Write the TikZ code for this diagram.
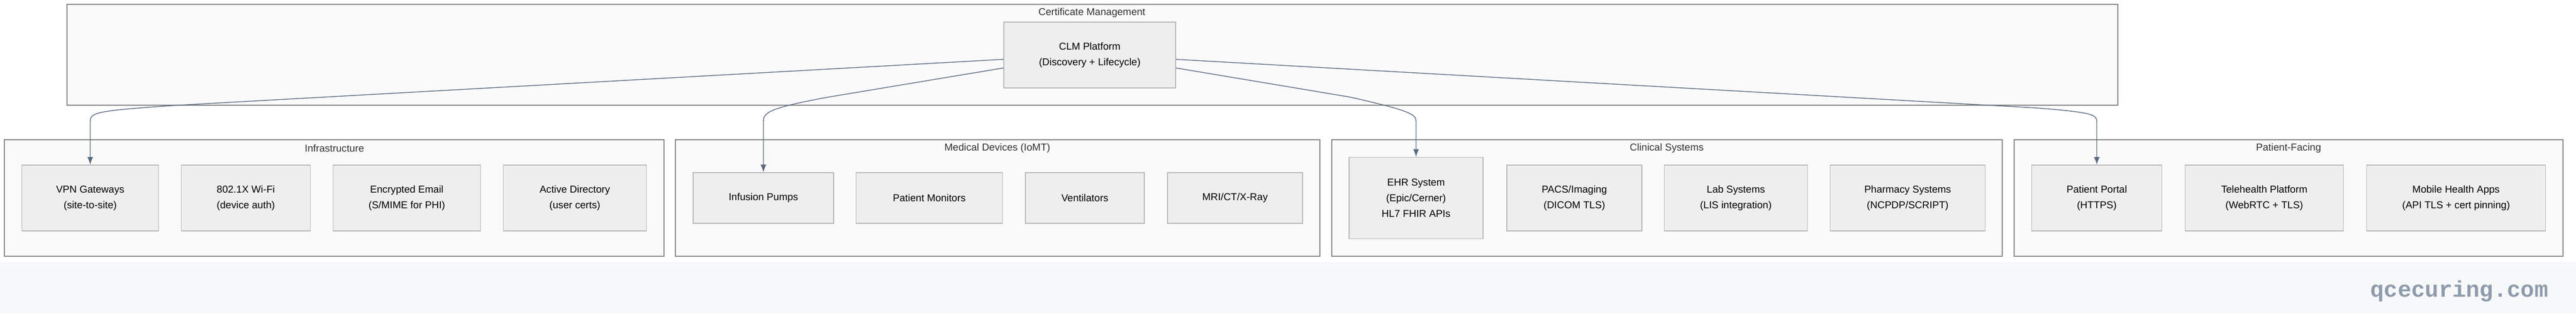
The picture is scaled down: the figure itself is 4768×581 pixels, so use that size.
\documentclass[tikz,border=0pt]{standalone}
\usepackage{fontspec}
\setmainfont{Liberation Sans}
\setmonofont{Liberation Mono}
\usetikzlibrary{calc}
\definecolor{GroupFill}{HTML}{FAFAFA}
\definecolor{GroupLine}{HTML}{888888}
\definecolor{NodeFill}{HTML}{EEEEEE}
\definecolor{NodeLine}{HTML}{B8B8B8}
\definecolor{EdgeColor}{HTML}{5A6A80}
\definecolor{BandColor}{HTML}{F7F8FA}
\definecolor{MarkColor}{HTML}{8E9BAB}
\tikzstyle{clm-base}=[rectangle,
                      draw=NodeLine,
                      fill=NodeFill,
                      text centered,
                      align=center,
                      font=\fontsize{5.3}{8.2}\selectfont,
                     ]
\tikzstyle{system}=[clm-base, minimum height=1.22cm]
\tikzstyle{device}=[clm-base, minimum height=0.94cm]
\tikzstyle{group}=[draw=GroupLine, fill=GroupFill]
\tikzstyle{group-title}=[font=\fontsize{5.3}{7}\selectfont, text=black!80]
\tikzstyle{link}=[EdgeColor, -latex]

\begin{document}
\begin{tikzpicture}[x=0.01cm, y=-0.01cm]
    \useasboundingbox (0,0) rectangle (4768,581);
    % Background
    % --------------------------------------------------------------------------
    \fill[BandColor] (0,485) rectangle (4768,581);
    \node at (4552, 540) (mark) [font=\ttfamily\bfseries\fontsize{12}{12}\selectfont, text=MarkColor] {qcecuring.com};

    % Groups
    % --------------------------------------------------------------------------
    \draw[group] ( 124,   8) rectangle (3920, 195);
    \draw[group] (   8, 259) rectangle (1229, 475);
    \draw[group] (1250, 259) rectangle (2443, 475);
    \draw[group] (2465, 259) rectangle (3706, 475);
    \draw[group] (3728, 259) rectangle (4744, 475);

    \node at (2021,  24) (cert_text)   [group-title] {Certificate Management};
    \node at ( 619, 275) (infra_text)  [group-title] {Infrastructure};
    \node at (1846, 275) (iomt_text)   [group-title] {Medical Devices (IoMT)};
    \node at (3085, 275) (clin_text)   [group-title] {Clinical Systems};
    \node at (4236, 275) (patient_text)[group-title] {Patient-Facing};

    % Nodes
    % --------------------------------------------------------------------------
    \node at (2017, 102) (clm) [system, minimum width=3.18cm] {CLM Platform\\(Discovery + Lifecycle)};

    \node at ( 167, 367) (vpn)   [system, minimum width=2.53cm] {VPN Gateways\\(site-to-site)};
    \node at ( 455, 367) (wifi)  [system, minimum width=2.39cm] {802.1X Wi-Fi\\(device auth)};
    \node at ( 753, 367) (email) [system, minimum width=2.73cm] {Encrypted Email\\(S/MIME for PHI)};
    \node at (1064, 367) (ad)    [system, minimum width=2.65cm] {Active Directory\\(user certs)};

    \node at (1413, 367) (pumps)    [device, minimum width=2.60cm] {Infusion Pumps};
    \node at (1720, 367) (monitors) [device, minimum width=2.71cm] {Patient Monitors};
    \node at (2008, 367) (vents)    [device, minimum width=2.20cm] {Ventilators};
    \node at (2286, 367) (imaging)  [device, minimum width=2.50cm] {MRI/CT/X-Ray};

    \node at (2621, 367) (ehr)      [system, minimum width=2.48cm, minimum height=1.51cm] {EHR System\\(Epic/Cerner)\\HL7 FHIR APIs};
    \node at (2914, 367) (pacs)     [system, minimum width=2.50cm] {PACS/Imaging\\(DICOM TLS)};
    \node at (3213, 367) (lab)      [system, minimum width=2.65cm] {Lab Systems\\(LIS integration)};
    \node at (3531, 367) (pharmacy) [system, minimum width=2.87cm] {Pharmacy Systems\\(NCPDP/SCRIPT)};

    \node at (3881, 367) (portal)   [system, minimum width=2.41cm] {Patient Portal\\(HTTPS)};
    \node at (4191, 367) (tele)     [system, minimum width=2.93cm] {Telehealth Platform\\(WebRTC + TLS)};
    \node at (4546, 367) (mobile)   [system, minimum width=3.31cm] {Mobile Health Apps\\(API TLS + cert pinning)};

    % Arrows
    % --------------------------------------------------------------------------
    \coordinate (clm_l1) at ($(clm.west)+(0,8)$);
    \coordinate (clm_l2) at ($(clm.west)+(0,24)$);
    \coordinate (clm_r1) at ($(clm.east)+(0,8)$);
    \coordinate (clm_r2) at ($(clm.east)+(0,24)$);

    \draw[link] (clm_l1) -- (330,195) .. controls (180,205) and (167,208) .. (167,225) -- (vpn.north);
    \draw[link] (clm_l2) -- (1533,180) .. controls (1425,200) and (1413,208) .. (1413,225) -- (pumps.north);
    \draw[link] (clm_r2) -- (2499,180) .. controls (2610,205) and (2621,212) .. (2621,225) -- (ehr.north);
    \draw[link] (clm_r1) -- (3768,200) .. controls (3870,208) and (3881,212) .. (3881,225) -- (portal.north);
\end{tikzpicture}
\end{document}
